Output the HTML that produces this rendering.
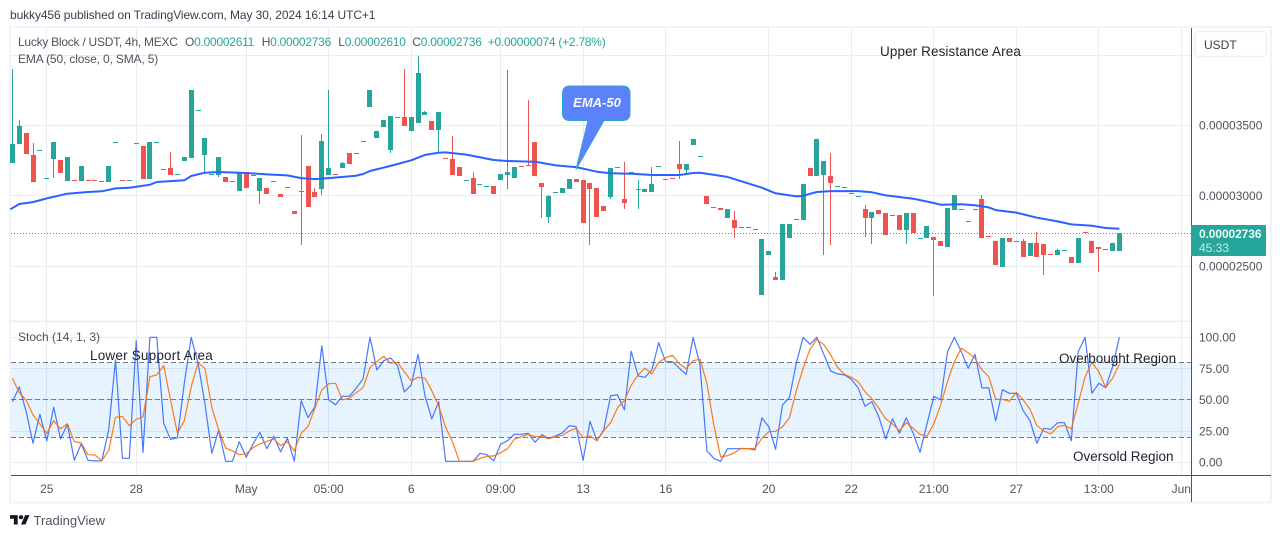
<!DOCTYPE html>
<html lang="en">
<head>
<meta charset="utf-8">
<title>Lucky Block / USDT chart</title>
<style>
html,body{margin:0;padding:0;background:#fff;width:1281px;height:538px;overflow:hidden}
svg{display:block;font-family:"Liberation Sans",sans-serif}
text{white-space:pre}
</style>
</head>
<body>
<svg id="chart" xmlns="http://www.w3.org/2000/svg" width="1281" height="538" viewBox="0 0 1281 538">
  <text x="10" y="19" font-size="12" letter-spacing="-0.1" fill="#3a3e4a">bukky456 published on TradingView.com, May 30, 2024 16:14 UTC+1</text>
  <rect x="10" y="27" width="1261" height="475.5" fill="#fff" stroke="#f0f3fa" stroke-width="2"/>
  <g id="grid"></g>
  <rect x="11" y="320.5" width="1180" height="1.5" fill="#e8ecf2"/>
  <rect id="band" x="11" width="1180" fill="#2196f3" fill-opacity="0.11"/>
  <g id="bandlines"></g>
  <g id="candles"></g>
  <polyline id="last-line" fill="none" stroke="#26a69a" stroke-width="1" stroke-dasharray="1 2" shape-rendering="crispEdges"/>
  <polyline id="ema" fill="none" stroke="#2962ff" stroke-width="2" stroke-linejoin="round"/>
  <polyline id="stoch-k" fill="none" stroke="#2962ff" stroke-width="1.2" stroke-opacity="0.85" stroke-linejoin="round"/>
  <polyline id="stoch-d" fill="none" stroke="#ff6d00" stroke-width="1.2" stroke-opacity="0.9" stroke-linejoin="round"/>

  <g>
    <path d="M570 86 H622.5 Q630 86 630 93.5 V113 Q630 120.5 622.5 120.5 H604 L576 169.5 L588 120.5 H570 Q562.5 120.5 562.5 113 V93.5 Q562.5 86 570 86 Z" fill="#5b82fb" stroke="#2fa3cf" stroke-width="1"/>
    <text x="597" y="107" font-size="13" font-weight="bold" font-style="italic" fill="#f4f7ff" text-anchor="middle">EMA-50</text>
  </g>

  <text y="46" font-size="12" letter-spacing="-0.25" fill="#50535e"><tspan x="18">Lucky Block / USDT, 4h, MEXC</tspan><tspan x="185">O</tspan><tspan fill="#26a69a">0.00002611</tspan><tspan x="261.7">H</tspan><tspan fill="#26a69a">0.00002736</tspan><tspan x="338.3">L</tspan><tspan fill="#26a69a">0.00002610</tspan><tspan x="412.3">C</tspan><tspan fill="#26a69a">0.00002736</tspan><tspan x="487.7" fill="#26a69a">+0.00000074 (+2.78%)</tspan></text>
  <text x="18" y="63" font-size="12" letter-spacing="-0.15" fill="#50535e">EMA (50, close, 0, SMA, 5)</text>
  <text x="18" y="341" font-size="12" fill="#50535e">Stoch (14, 1, 3)</text>

  <text x="880" y="56" font-size="13.5" letter-spacing="0.1" fill="#1f222b">Upper Resistance Area</text>
  <text x="90" y="360" font-size="13.5" letter-spacing="0.2" fill="#1f222b">Lower Support Area</text>
  <text x="1059" y="363" font-size="13.5" fill="#1f222b">Overbought Region</text>
  <text x="1073" y="461" font-size="13.5" fill="#1f222b">Oversold Region</text>

  <rect x="11" y="475" width="1260" height="1" fill="#50535e"/>
  <rect x="1191" y="28" width="1" height="474" fill="#50535e"/>
  <g id="axis-labels"></g>

  <g>
    <rect x="1191" y="225" width="75" height="31" rx="1" fill="#26a69a"/>
    <text x="1199" y="238" font-size="12" font-weight="bold" letter-spacing="-0.1" fill="#eafaf7">0.00002736</text>
    <text x="1199" y="252" font-size="12" fill="#c5ebe5">45:33</text>
  </g>

  <g>
    <rect x="1195" y="31.5" width="71.5" height="25" rx="4" fill="#fff" stroke="#eceff5" stroke-width="1.5"/>
    <text x="1204" y="49" font-size="12" fill="#3a3e4a">USDT</text>
  </g>

  <g>
    <g transform="translate(10,513) scale(0.55,0.52)" fill="#131722">
      <path d="M14 22H7V11H0V4h14v18zM28 22h-8l7.5-18h8L28 22z"/><circle cx="20" cy="8" r="4"/>
    </g>
    <text x="33.5" y="525" font-size="13" fill="#50535e">TradingView</text>
  </g>
</svg>
<script>
// Candle values, in units of 0.00000001 USDT
const opens = [3235,3368,3446,3290,3323,3124,3261,3254,3105,3110,
3105,3110,3110,3103,3098,3379,3110,3110,3372,3353,
3119,3379,3188,3197,3152,3247,3268,3606,3290,3152,
3148,3134,3103,3034,3169,3145,3034,3056,3103,3013,
3060,2892,3032,3212,3027,3048,3148,3152,3197,3304,
3301,3387,3630,3410,3488,3325,3557,3559,3460,3517,
3573,3531,3467,3266,3261,3204,3110,3126,3082,3070,
3070,3112,3148,3126,3209,3216,3382,3091,2850,3025,
3020,3048,3119,3112,3091,3056,2928,2992,3202,2978,
3167,3048,3027,3027,3209,3117,3124,3226,3183,3360,
3280,2999,2918,2914,2843,2829,2777,2777,2762,2297,
2580,2424,2403,2701,2833,2829,3197,3141,3148,3141,
3067,3060,3018,2996,2907,2843,2899,2878,2862,2864,
2758,2878,2699,2701,2708,2680,2637,2899,2904,2819,
2904,2978,2713,2680,2495,2701,2677,2680,2573,2665,
2658,2585,2580,2613,2566,2524,2741,2680,2637,2621,
2609,2611];
const highs = [3899,3538,3446,3375,3323,3124,3382,3254,3275,3110,
3212,3110,3110,3103,3212,3379,3110,3110,3372,3353,
3382,3379,3188,3311,3152,3275,3751,3606,3410,3152,
3275,3134,3103,3162,3169,3145,3126,3056,3103,3013,
3060,2892,3431,3212,3056,3439,3751,3152,3240,3304,
3301,3387,3751,3460,3538,3566,3557,3899,3559,3992,
3602,3531,3595,3266,3424,3204,3110,3169,3082,3070,
3070,3155,3892,3204,3209,3680,3382,3091,3006,3025,
3056,3119,3119,3112,3091,3056,2928,3197,3202,3240,
3167,3112,3048,3204,3209,3117,3124,3389,3226,3403,
3280,2999,2918,2914,2907,2892,2777,2777,2762,2694,
2609,2460,2800,2800,2833,3084,3197,3403,3247,3304,
3067,3060,3018,2996,2935,2885,2899,2878,2862,2864,
2878,2878,2699,2786,2708,2680,2914,3006,2904,2819,
2904,3006,2713,2680,2701,2701,2677,2694,2665,2743,
2658,2585,2623,2613,2566,2701,2741,2680,2637,2621,
2665,2736];
const lows = [3235,3368,3297,3098,3323,3124,3126,3162,3105,3110,
3105,3110,3110,3103,3098,3379,3110,3110,3372,3119,
3119,3379,3188,3148,3152,3247,3268,3606,3160,3152,
3134,3098,3103,3034,3056,3145,2942,3013,3103,2992,
3060,2871,2651,2921,2992,3006,3148,3152,3197,3226,
3301,3387,3630,3410,3488,3304,3557,3495,3460,3517,
3573,3467,3304,3266,3148,3141,3110,3013,3082,3070,
3013,3112,3048,3126,3209,3216,3141,2843,2807,3025,
3020,3048,3098,2807,2651,2850,2892,2978,3202,2907,
3167,2907,3027,3027,3209,3117,3124,3119,3155,3360,
3280,2942,2918,2899,2843,2701,2777,2777,2762,2297,
2580,2403,2403,2701,2833,2829,3141,3141,2580,2651,
3067,3060,3018,2996,2708,2658,2871,2722,2862,2758,
2658,2736,2699,2701,2290,2644,2637,2899,2904,2819,
2904,2701,2713,2509,2495,2673,2677,2566,2573,2566,
2439,2585,2580,2613,2524,2524,2741,2595,2460,2621,
2609,2610];
const closes = [3368,3495,3297,3098,3323,3124,3382,3162,3275,3109,
3212,3109,3109,3103,3212,3379,3109,3110,3372,3119,
3382,3379,3188,3148,3152,3275,3751,3606,3410,3152,
3275,3098,3103,3162,3056,3145,3126,3013,3103,2992,
3060,2871,3032,2921,2992,3389,3197,3151,3233,3226,
3301,3387,3751,3460,3538,3566,3556,3495,3559,3871,
3595,3467,3595,3265,3148,3141,3110,3013,3082,3070,
3013,3155,3169,3204,3208,3215,3141,3063,2999,3025,
3056,3119,3098,2807,3048,2850,2892,3197,3202,2949,
3167,3048,3048,3084,3209,3116,3123,3190,3226,3403,
3280,2942,2918,2899,2907,2772,2777,2777,2762,2694,
2609,2403,2800,2800,2833,3084,3141,3403,3247,3091,
3067,3059,3018,2996,2843,2885,2871,2722,2862,2758,
2878,2736,2699,2786,2687,2644,2914,3006,2904,2819,
2904,2701,2712,2509,2701,2673,2677,2566,2665,2566,
2580,2584,2616,2613,2524,2701,2740,2595,2623,2621,
2665,2736];

// EMA-50 samples: candle index and value
const emaIndex = [-0.3,1,3,5,8,11,13,15,17,20,21,25,26,28,30,34,37,40,42,44,46,50,51,52,55,58,60,62,63,66,70,72,76,79,82,85,87,90,93,97,99,100,104,109,111,114,115,117,119,123,125,127,131,134,135,138,140,142,143,146,149,152,154,157,159,161];
const emaValues = [2905,2942,2956,2982,3015,3027,3032,3053,3058,3079,3098,3110,3141,3164,3169,3162,3152,3145,3126,3119,3126,3143,3155,3176,3212,3252,3290,3306,3308,3292,3254,3247,3242,3216,3204,3171,3160,3157,3148,3148,3162,3164,3134,3058,3018,2996,3001,3027,3034,3034,3025,3003,2980,2949,2937,2940,2933,2918,2899,2881,2845,2819,2798,2788,2772,2767];

// Stochastic %K and %D per candle
const stochK = [48.3,60.3,40.5,15.2,38.4,17.1,44,18.7,30.4,1.6,
14.7,1.6,1.1,1.1,25.9,81.9,3.2,3.2,97.3,8,
100,100,31.2,18.4,19.5,63.2,100,79.2,47.2,7.2,
25.9,.8,.8,16.5,4,14.7,24,10.9,20.8,8.3,
19.5,.8,49.3,35.7,44.5,93.1,49.9,45.9,52.8,52.8,
59.2,66.9,100,73.9,81.3,83.5,77.3,56.3,61.9,86.4,
53.1,34.7,48.5,.8,.8,.8,.8,.8,7.2,6.1,
1.1,14.4,17.3,22.4,22.4,23.2,16,22.1,18.9,21.1,
23.7,29.3,28.5,1.6,32.8,17.3,25.9,53.3,53.9,41.9,
88.8,69.1,68,73.9,95.7,80.5,80.5,75.2,70.4,100,
77.9,9.1,3.2,.8,10.9,10.9,10.9,10.9,9.9,35.5,
28.5,10.4,45.9,51.7,79.2,100,94.4,100,86.4,73.1,
70.7,69.9,66.4,59.7,44.8,48.5,36.5,18.7,34.9,23.2,
35.7,23.2,8,30.4,52.8,49.9,88.5,100,88.5,75.2,
86.4,59.5,59.5,33.1,58.1,55.2,55.2,41.3,33.3,15.2,
27.2,26.4,31.7,31.7,17.3,88.3,100,55.2,63.2,59.7,
76.5,100];
const stochD = [67.2,55.7,49.6,37.9,30.7,23.2,33.3,26.7,30.9,16.5,
15.5,6.1,5.9,1.3,9.3,36,36.8,29.3,34.4,36.3,
68.5,69.9,77.3,49.9,23.2,33.3,60.5,79.7,75.2,44,
25.9,11.5,9.1,6.1,6.9,11.7,14.7,16.8,18.7,13.3,
16.5,9.3,23.2,28.8,43.2,57.9,62.9,63.2,49.9,51.2,
55.7,59.7,75.7,80.5,84.8,79.2,80,72.5,65.1,68,
67.2,57.3,45.1,28,16.5,.8,.8,.8,3.2,4.8,
5.1,7.7,10.9,18.4,20.5,22.4,20.5,20.5,18.9,20.5,
21.6,25.1,27.2,19.7,21.1,17.3,25.3,31.7,43.7,49.3,
61.6,69.9,75.2,70.7,80,83.7,85.6,78.7,74.9,81.3,
82.4,63.2,29.9,4.3,5.3,7.7,11.2,10.9,11.2,19.2,
24.5,24.8,28.5,35.5,57.3,75.2,90.4,98.4,94.1,86.1,
76,70.4,68,64.5,56.5,50.9,43.2,34.7,30.7,25.3,
31.7,27.2,22.4,20.8,30.7,45.9,64.5,80.5,91.2,87.7,
83.2,73.9,68.5,50.4,50.4,48.8,56,49.9,42.4,29.3,
25.1,22.7,28.5,29.6,26.7,47.2,68.5,80,72.5,59.7,
67.2,78.4];

// Axis ticks
const priceTicks = [3500, 3000, 2500];
const priceTopGrid = [3995];
const stochTicks = [100, 75, 50, 25, 0];
const stochLevels = [80, 50, 20];
const timeLabels = ['25','28','May','05:00','6','09:00','13','16','20','22','21:00','27','13:00','Jun'];
const timeIndex = [5,18,34,46,58,71,83,95,110,122,134,146,158,170];
const lastPrice = 2736;

const NS = 'http://www.w3.org/2000/svg';
function xAt(i){ return 12.4 + i * 6.876; }
function yPrice(v){ return 125.3 + (3500 - v) * 0.1411; }
function yStoch(v){ return 462.3 - v * 1.25; }
function make(tag, parent){
  const el = document.createElementNS(NS, tag);
  parent.appendChild(el);
  return el;
}
function rect(parent, x, y, w, h, fill){
  const r = make('rect', parent);
  r.setAttribute('x', x);
  r.setAttribute('y', y);
  r.setAttribute('width', w);
  r.setAttribute('height', h);
  r.setAttribute('fill', fill);
  return r;
}

const gridG = document.getElementById('grid');
const gridColor = '#e6edf3';
priceTopGrid.concat(priceTicks).forEach(function(v){
  const line = rect(gridG, 11, Math.floor(yPrice(v)), 1180, 1, gridColor);
  
  
});
stochTicks.forEach(function(v){
  const line = rect(gridG, 11, Math.floor(yStoch(v)), 1180, 1, gridColor);
  
  
});
timeIndex.forEach(function(i){
  const line = rect(gridG, Math.floor(xAt(i)), 28, 1, 447, gridColor);
  
  
});

const band = document.getElementById('band');
band.setAttribute('y', yStoch(stochLevels[0]));
band.setAttribute('height', yStoch(stochLevels[2]) - yStoch(stochLevels[0]));

const bandLines = document.getElementById('bandlines');
stochLevels.forEach(function(v){
  const l = make('line', bandLines);
  
  
  l.setAttribute('x1', 11);
  l.setAttribute('x2', 1191);
  l.setAttribute('y1', Math.floor(yStoch(v)) + 0.5);
  l.setAttribute('y2', Math.floor(yStoch(v)) + 0.5);
  l.setAttribute('stroke', '#787b86');
  l.setAttribute('stroke-width', 1);
  l.setAttribute('stroke-dasharray', '5 3');
});

const candleG = document.getElementById('candles');
closes.forEach(function(c, i){
  const o = opens[i];
  const color = c >= o ? '#26a69a' : '#ef5350';
  const g = make('g', candleG);
  
  
  g.setAttribute('shape-rendering', 'crispEdges');
  const px = Math.floor(xAt(i));
  const hiY = Math.round(yPrice(highs[i]));
  const loY = Math.round(yPrice(lows[i]));
  if (loY > hiY) {
    const wick = rect(g, px, hiY, 1, loY - hiY, color);
    
    
  }
  const top = Math.round(yPrice(Math.max(o, c)));
  const bot = Math.round(yPrice(Math.min(o, c)));
  const body = rect(g, px - 2, top, 5, Math.max(1, bot - top), color);
  
  
});

document.getElementById('last-line').setAttribute('points', '11,' + (Math.floor(yPrice(lastPrice)) + 0.5) + ' 1191,' + (Math.floor(yPrice(lastPrice)) + 0.5));

document.getElementById('ema').setAttribute('points', emaValues.map(function(v, k){
  return xAt(emaIndex[k]).toFixed(1) + ',' + yPrice(v).toFixed(1);
}).join(' '));
document.getElementById('stoch-k').setAttribute('points', stochK.map(function(v, i){
  return xAt(i).toFixed(1) + ',' + yStoch(v).toFixed(1);
}).join(' '));
document.getElementById('stoch-d').setAttribute('points', stochD.map(function(v, i){
  return xAt(i).toFixed(1) + ',' + yStoch(v).toFixed(1);
}).join(' '));

const labelG = document.getElementById('axis-labels');
function label(parent, x, y, str, anchor){
  const t = make('text', parent);
  t.setAttribute('x', x);
  t.setAttribute('y', y);
  t.setAttribute('font-size', 12);
  t.setAttribute('fill', '#50535e');
  t.setAttribute('text-anchor', anchor);
  t.textContent = str;
  return t;
}
priceTicks.forEach(function(v){
  const t = label(labelG, 1199, yPrice(v) + 4.2, (v * 1e-8).toFixed(8), 'start');
  
  
});
stochTicks.forEach(function(v){
  const t = label(labelG, 1199, yStoch(v) + 4.2, v.toFixed(2), 'start');
  
  
});
timeLabels.forEach(function(s, k){
  const t = label(labelG, xAt(timeIndex[k]), 493, s, 'middle');
  
  
});
</script>
</body>
</html>
